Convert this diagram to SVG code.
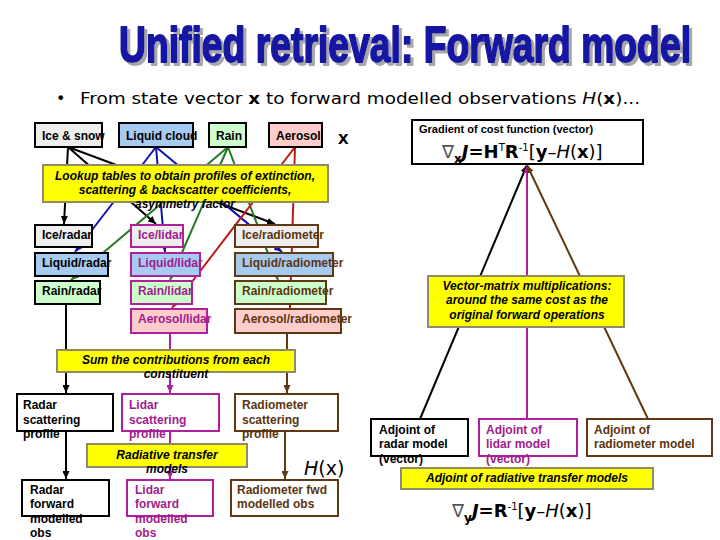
<svg xmlns="http://www.w3.org/2000/svg" width="720" height="540" viewBox="0 0 720 540">
<style>
.t{font-family:"Liberation Sans",Arial,sans-serif;font-size:12px;font-weight:bold}
.yl{fill:#ffff00;stroke:#8c8c6c;stroke-width:2}
.yt{font-family:"Liberation Sans",Arial,sans-serif;font-size:12px;font-weight:bold;font-style:italic;text-anchor:middle}
.bk{stroke:#000;stroke-width:2}
.mg{stroke:#b0209c;stroke-width:2}
.br{stroke:#603813;stroke-width:2}
.gy{fill:#eeeeee}.bl{fill:#a6caf0}.gr{fill:#ccffcc}.pk{fill:#ffcccc}.wh{fill:#fff}
.tm{fill:#a01c8c}.tb{fill:#5a3510}
.fm{font-family:"DejaVu Sans",Verdana,sans-serif;font-size:18px}
</style>
<defs>
<filter id="shadow" filterUnits="userSpaceOnUse" x="100" y="10" width="620" height="70">
<feOffset in="SourceAlpha" dx="3" dy="3" result="o"/>
<feFlood flood-color="#a8a8a8"/>
<feComposite in2="o" operator="in" result="s"/>
<feMerge><feMergeNode in="s"/><feMergeNode in="SourceGraphic"/></feMerge>
</filter>
<marker id="aK" markerUnits="userSpaceOnUse" markerWidth="8" markerHeight="7" refX="8" refY="3.5" orient="auto"><path d="M0,0 L8,3.5 L0,7z" fill="#000"/></marker>
<marker id="aB" markerUnits="userSpaceOnUse" markerWidth="8" markerHeight="7" refX="8" refY="3.5" orient="auto"><path d="M0,0 L8,3.5 L0,7z" fill="#1010b0"/></marker>
<marker id="aG" markerUnits="userSpaceOnUse" markerWidth="8" markerHeight="7" refX="8" refY="3.5" orient="auto"><path d="M0,0 L8,3.5 L0,7z" fill="#207a20"/></marker>
<marker id="aR" markerUnits="userSpaceOnUse" markerWidth="8" markerHeight="7" refX="8" refY="3.5" orient="auto"><path d="M0,0 L8,3.5 L0,7z" fill="#c01818"/></marker>
<marker id="aM" markerUnits="userSpaceOnUse" markerWidth="8" markerHeight="7" refX="8" refY="3.5" orient="auto"><path d="M0,0 L8,3.5 L0,7z" fill="#b0209c"/></marker>
<marker id="aN" markerUnits="userSpaceOnUse" markerWidth="8" markerHeight="7" refX="8" refY="3.5" orient="auto"><path d="M0,0 L8,3.5 L0,7z" fill="#603813"/></marker>
</defs>
<rect width="720" height="540" fill="#fff"/>

<g id="title" filter="url(#shadow)">
<text transform="scale(1,1.5625)" x="119" y="39.7" textLength="572" lengthAdjust="spacingAndGlyphs" font-family="'Liberation Sans Narrow','Liberation Sans',Arial,sans-serif" font-size="32" font-weight="bold" fill="#1818a4" stroke="#1818a4" stroke-width="1.2" stroke-linejoin="round">Unified retrieval: Forward model</text>
</g>
<g id="bullet" font-family="'DejaVu Sans',Verdana,sans-serif" font-size="16">
<text x="56" y="104">•</text>
<text x="80" y="104" textLength="560" lengthAdjust="spacingAndGlyphs">From state vector <tspan font-weight="bold">x</tspan> to forward modelled observations <tspan font-style="italic">H</tspan>(<tspan font-weight="bold">x</tspan>)...</text>
</g>

<g id="connectors" fill="none">
<path d="M68,147 L64,224" stroke="#000" stroke-width="2" marker-end="url(#aK)"/>
<path d="M68,147 L156,224" stroke="#000" stroke-width="2" marker-end="url(#aK)"/>
<path d="M68,147 L275,224" stroke="#000" stroke-width="2" marker-end="url(#aK)"/>
<path d="M156,147 L75,252" stroke="#1010b0" stroke-width="2" marker-end="url(#aB)"/>
<path d="M156,147 L165,252" stroke="#1010b0" stroke-width="2" marker-end="url(#aB)"/>
<path d="M156,147 L282,252" stroke="#1010b0" stroke-width="2" marker-end="url(#aB)"/>
<path d="M228,147 L71,280" stroke="#207a20" stroke-width="2" marker-end="url(#aG)"/>
<path d="M228,147 L170,280" stroke="#207a20" stroke-width="2" marker-end="url(#aG)"/>
<path d="M228,147 L278,280" stroke="#207a20" stroke-width="2" marker-end="url(#aG)"/>
<path d="M295,147 L172,308" stroke="#c01818" stroke-width="2" marker-end="url(#aR)"/>
<path d="M295,147 L290,308" stroke="#c01818" stroke-width="2" marker-end="url(#aR)"/>
<path d="M66,304 L66,393" stroke="#000" stroke-width="2" marker-end="url(#aK)"/>
<path d="M170,333 L170,393" stroke="#b0209c" stroke-width="2" marker-end="url(#aM)"/>
<path d="M287,333 L287,393" stroke="#603813" stroke-width="2" marker-end="url(#aN)"/>
<path d="M66,431 L66,479" stroke="#000" stroke-width="2" marker-end="url(#aK)"/>
<path d="M170,431 L170,479" stroke="#b0209c" stroke-width="2" marker-end="url(#aM)"/>
<path d="M285,431 L285,479" stroke="#603813" stroke-width="2" marker-end="url(#aN)"/>
<path d="M420,419 L527,165" stroke="#000" stroke-width="2" marker-end="url(#aK)"/>
<path d="M527,419 L527,165" stroke="#b0209c" stroke-width="2" marker-end="url(#aM)"/>
<path d="M648,419 L527,165" stroke="#603813" stroke-width="2" marker-end="url(#aN)"/>
</g>

<g id="ice-snow"><rect x="35" y="123" width="67" height="24" class="gy bk"/><text x="42" y="140" class="t">Ice &amp; snow</text></g>
<g id="liquid-cloud"><rect x="119" y="123" width="74" height="24" class="bl bk"/><text x="126" y="140" class="t">Liquid cloud</text></g>
<g id="rain"><rect x="209" y="123" width="37" height="24" class="gr bk"/><text x="216" y="140" class="t">Rain</text></g>
<g id="aerosol"><rect x="269" y="123" width="53" height="24" class="pk bk"/><text x="276" y="140" class="t">Aerosol</text></g>
<g id="x-label"><text x="338" y="144" font-family="'Liberation Sans',Arial,sans-serif" font-size="19" font-weight="bold">x</text></g>

<g id="lookup"><rect x="43" y="165" width="285" height="37" class="yl"/>
<text class="yt"><tspan x="185" y="180">Lookup tables to obtain profiles of extinction,</tspan><tspan x="185" y="194">scattering &amp; backscatter coefficients,</tspan><tspan x="185" y="208">asymmetry factor</tspan></text></g>

<g id="ice-radar"><rect x="35" y="225" width="57" height="22" class="gy bk"/><text x="42" y="239" class="t">Ice/radar</text></g>
<g id="liquid-radar"><rect x="35" y="253" width="73" height="23" class="bl bk"/><text x="42" y="267" class="t">Liquid/radar</text></g>
<g id="rain-radar"><rect x="35" y="281" width="65" height="23" class="gr bk"/><text x="42" y="295" class="t">Rain/radar</text></g>
<g id="ice-lidar"><rect x="131" y="225" width="52" height="22" class="gy mg"/><text x="138" y="239" class="t tm">Ice/lidar</text></g>
<g id="liquid-lidar"><rect x="131" y="253" width="69" height="23" class="bl mg"/><text x="138" y="267" class="t tm">Liquid/lidar</text></g>
<g id="rain-lidar"><rect x="131" y="281" width="61" height="23" class="gr mg"/><text x="138" y="295" class="t tm">Rain/lidar</text></g>
<g id="aerosol-lidar"><rect x="131" y="309" width="76" height="24" class="pk mg"/><text x="138" y="323" class="t tm">Aerosol/lidar</text></g>
<g id="ice-radiometer"><rect x="235" y="225" width="83" height="22" class="gy br"/><text x="242" y="239" class="t tb">Ice/radiometer</text></g>
<g id="liquid-radiometer"><rect x="235" y="253" width="98" height="23" class="bl br"/><text x="242" y="267" class="t tb">Liquid/radiometer</text></g>
<g id="rain-radiometer"><rect x="235" y="281" width="91" height="23" class="gr br"/><text x="242" y="295" class="t tb">Rain/radiometer</text></g>
<g id="aerosol-radiometer"><rect x="235" y="309" width="106" height="24" class="pk br"/><text x="242" y="323" class="t tb">Aerosol/radiometer</text></g>

<g id="sum"><rect x="57" y="350" width="238" height="22" class="yl"/>
<text class="yt"><tspan x="176" y="364">Sum the contributions from each</tspan><tspan x="176" y="378">constituent</tspan></text></g>

<g id="radar-scat"><rect x="17" y="394" width="96" height="37" class="wh bk"/><text class="t"><tspan x="23" y="409">Radar</tspan><tspan x="23" y="424">scattering</tspan><tspan x="23" y="438">profile</tspan></text></g>
<g id="lidar-scat"><rect x="122" y="394" width="97" height="37" class="wh mg"/><text class="t tm"><tspan x="129" y="409">Lidar</tspan><tspan x="129" y="424">scattering</tspan><tspan x="129" y="438">profile</tspan></text></g>
<g id="radiometer-scat"><rect x="235" y="394" width="103" height="37" class="wh br"/><text class="t tb"><tspan x="242" y="409">Radiometer</tspan><tspan x="242" y="424">scattering</tspan><tspan x="242" y="438">profile</tspan></text></g>

<g id="rt"><rect x="87" y="444" width="160" height="23" class="yl"/>
<text class="yt"><tspan x="167" y="459">Radiative transfer</tspan><tspan x="167" y="473">models</tspan></text></g>

<g id="hx"><text x="304" y="475" font-family="'DejaVu Sans',Verdana,sans-serif" font-size="19"><tspan font-style="italic">H</tspan>(x)</text></g>

<g id="radar-fwd"><rect x="22" y="480" width="87" height="36" class="wh bk"/><text class="t"><tspan x="30" y="494">Radar</tspan><tspan x="30" y="508">forward</tspan><tspan x="30" y="523">modelled</tspan><tspan x="30" y="537">obs</tspan></text></g>
<g id="lidar-fwd"><rect x="127" y="480" width="86" height="36" class="wh mg"/><text class="t tm"><tspan x="135" y="494">Lidar</tspan><tspan x="135" y="508">forward</tspan><tspan x="135" y="523">modelled</tspan><tspan x="135" y="537">obs</tspan></text></g>
<g id="radiometer-fwd"><rect x="231" y="480" width="107" height="36" class="wh br"/><text class="t tb"><tspan x="237" y="494">Radiometer fwd</tspan><tspan x="237" y="508">modelled obs</tspan></text></g>

<g id="gradient"><rect x="412" y="120" width="231" height="44" class="wh bk"/>
<text x="419" y="133" font-family="'Liberation Sans',Arial,sans-serif" font-size="11" font-weight="bold">Gradient of cost function (vector)</text>
<text x="442" y="158" class="fm"><tspan fill="#555">∇</tspan><tspan font-size="12" font-weight="bold" dy="5">x</tspan><tspan dy="-5" font-style="italic" font-weight="bold">J</tspan><tspan font-weight="bold">=H</tspan><tspan font-size="10" dy="-7">T</tspan><tspan dy="7" font-weight="bold">R</tspan><tspan font-size="10" dy="-7">-1</tspan><tspan dy="7">[</tspan><tspan font-weight="bold">y</tspan>–<tspan font-style="italic">H</tspan>(<tspan font-weight="bold">x</tspan>)]</text></g>

<g id="vecmat"><rect x="428" y="276" width="196" height="51" class="yl"/>
<text class="yt" font-size="11"><tspan x="527" y="290">Vector-matrix multiplications:</tspan><tspan x="527" y="304">around the same cost as the</tspan><tspan x="527" y="319">original forward operations</tspan></text></g>

<g id="adj-radar"><rect x="371" y="419" width="97" height="37" class="wh bk"/><text class="t"><tspan x="379" y="434">Adjoint of</tspan><tspan x="379" y="448">radar model</tspan><tspan x="379" y="463">(vector)</tspan></text></g>
<g id="adj-lidar"><rect x="479" y="419" width="98" height="37" class="wh mg"/><text class="t tm"><tspan x="486" y="434">Adjoint of</tspan><tspan x="486" y="448">lidar model</tspan><tspan x="486" y="463">(vector)</tspan></text></g>
<g id="adj-radiometer"><rect x="587" y="419" width="125" height="37" class="wh br"/><text class="t tb"><tspan x="594" y="434">Adjoint of</tspan><tspan x="594" y="448">radiometer model</tspan></text></g>

<g id="adj-rt"><rect x="401" y="468" width="252" height="21" class="yl"/><text x="527" y="482" class="yt">Adjoint of radiative transfer models</text></g>

<g id="grad-y"><text x="452" y="517" class="fm"><tspan fill="#555">∇</tspan><tspan font-size="12" font-weight="bold" dy="5">y</tspan><tspan dy="-5" font-style="italic" font-weight="bold">J</tspan><tspan font-weight="bold">=R</tspan><tspan font-size="10" dy="-7">-1</tspan><tspan dy="7">[</tspan><tspan font-weight="bold">y</tspan>–<tspan font-style="italic">H</tspan>(<tspan font-weight="bold">x</tspan>)]</text></g>
</svg>
